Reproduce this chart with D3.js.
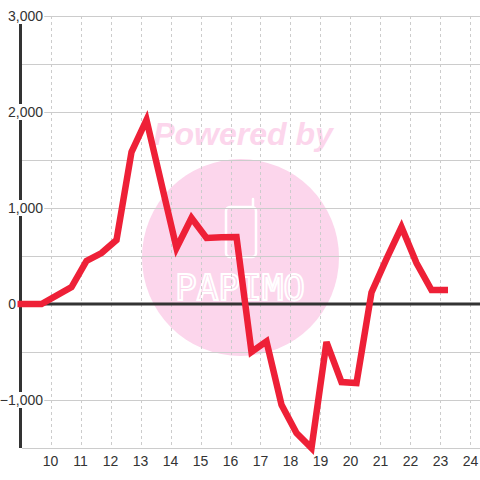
<!DOCTYPE html>
<html>
<head>
<meta charset="utf-8">
<script src="https://cdn.jsdelivr.net/npm/d3@7"></script>
<style>
  body { margin: 0; background: #fff; }
  svg { display: block; font-family: "Liberation Sans", Arial, sans-serif; }
</style>
</head>
<body>
<div id="chart"></div>
<script>
// hours (decimal) and values
var hours = [8.9, 9.7, 10.7, 11.2, 11.7, 12.2, 12.7, 13.2, 13.7, 14.2, 14.7, 15.2, 15.7, 16.2,
             16.7, 17.2, 17.7, 18.2, 18.7, 19.2, 19.7, 20.2, 20.7, 21.2, 21.7, 22.2, 22.7, 23.25];
var values = [0, 0, 177, 448, 531, 667, 1583, 1917, 1250, 583, 896, 688, 695, 698,
              -500, -390, -1050, -1344, -1500, -396, -813, -823, 120, 470, 802, 427, 146, 146];
var xTicks = [10, 11, 12, 13, 14, 15, 16, 17, 18, 19, 20, 21, 22, 23, 24];
var yGrid = [-1500, -1000, -500, 0, 500, 1000, 1500, 2000, 2500, 3000];
var yLabels = [-1000, 0, 1000, 2000, 3000];

var width = 480, height = 480;

var svg = d3.select("#chart").append("svg")
    .attr("width", width)
    .attr("height", height);

var x = d3.scaleLinear().domain([8.983, 24.317]).range([20, 480]);
var y = d3.scaleLinear().domain([-1500, 3000]).range([448, 16]);

// watermark
var wm = svg.append("g");
wm.append("circle")
    .attr("cx", 240.5).attr("cy", 257.5).attr("r", 98.5)
    .attr("fill", "#fcd6ec");
wm.append("text")
    .attr("x", 243).attr("y", 145)
    .attr("text-anchor", "middle")
    .style("font-size", "32px")
    .style("font-weight", "bold")
    .style("font-style", "italic")
    .attr("fill", "#fcd6ec")
    .text("Powered by");
wm.append("rect")
    .attr("x", 226).attr("y", 207).attr("width", 30).attr("height", 50).attr("rx", 4)
    .attr("fill", "none").attr("stroke", "#fff").attr("stroke-width", 2.5);
wm.append("line")
    .attr("x1", 253).attr("x2", 253).attr("y1", 199).attr("y2", 208)
    .attr("stroke", "#fff").attr("stroke-width", 2.5).attr("stroke-linecap", "round");
wm.append("text")
    .attr("x", 240).attr("y", 300)
    .attr("text-anchor", "middle")
    .style("font-size", "36px")
    .style("font-family", "'DejaVu Sans Mono', monospace")
    .attr("fill", "none")
    .attr("stroke", "#fff")
    .attr("stroke-width", 2)
    .text("PAPIMO");

// grid
svg.append("g").selectAll("line")
    .data(yGrid)
    .enter().append("line")
    .attr("x1", 22).attr("x2", 480)
    .attr("y1", function(d) { return y(d) + 0.5; })
    .attr("y2", function(d) { return y(d) + 0.5; })
    .attr("stroke", "#cccccc").attr("stroke-width", 1);

svg.append("g").selectAll("line")
    .data(xTicks)
    .enter().append("line")
    .attr("x1", function(d) { return Math.round(x(d)) + 0.5; })
    .attr("x2", function(d) { return Math.round(x(d)) + 0.5; })
    .attr("y1", y(3000)).attr("y2", y(-1500))
    .attr("stroke", "#cccccc").attr("stroke-width", 1)
    .attr("stroke-dasharray", "3,3");

// y axis line and zero line
svg.append("line")
    .attr("x1", 20.5).attr("x2", 20.5)
    .attr("y1", y(3000)).attr("y2", y(-1500))
    .attr("stroke", "#333").attr("stroke-width", 3);
svg.append("line")
    .attr("x1", 20).attr("x2", 480)
    .attr("y1", y(0)).attr("y2", y(0))
    .attr("stroke", "#333").attr("stroke-width", 3);

// y labels with white boxes
var fmt = d3.format(",");
var yl = svg.append("g").selectAll("g")
    .data(yLabels)
    .enter().append("g");
yl.append("text")
    .attr("x", function(d) { return d == 0 ? 16 : 43; })
    .attr("y", function(d) { return y(d) + 5; })
    .attr("text-anchor", "end")
    .style("font-size", "14px")
    .attr("fill", "#333")
    .text(function(d) { return fmt(d); });
yl.each(function() {
    var g = d3.select(this);
    var b = g.select("text").node().getBBox();
    g.insert("rect", "text")
        .attr("x", b.x - 1).attr("y", b.y)
        .attr("width", b.width + 2).attr("height", b.height)
        .attr("fill", "#fff");
});

// x labels
svg.append("g").selectAll("text")
    .data(xTicks)
    .enter().append("text")
    .attr("x", function(d) { return x(d); })
    .attr("y", 466)
    .attr("text-anchor", "middle")
    .style("font-size", "14px")
    .attr("fill", "#333")
    .text(function(d) { return d; });

// series line
var line = d3.line()
    .x(function(d) { return x(d[0]); })
    .y(function(d) { return y(d[1]); });

svg.append("path")
    .datum(d3.zip(hours, values))
    .attr("d", line)
    .attr("fill", "none")
    .attr("stroke", "#ee2037")
    .attr("stroke-width", 6.5);
</script>
</body>
</html>
